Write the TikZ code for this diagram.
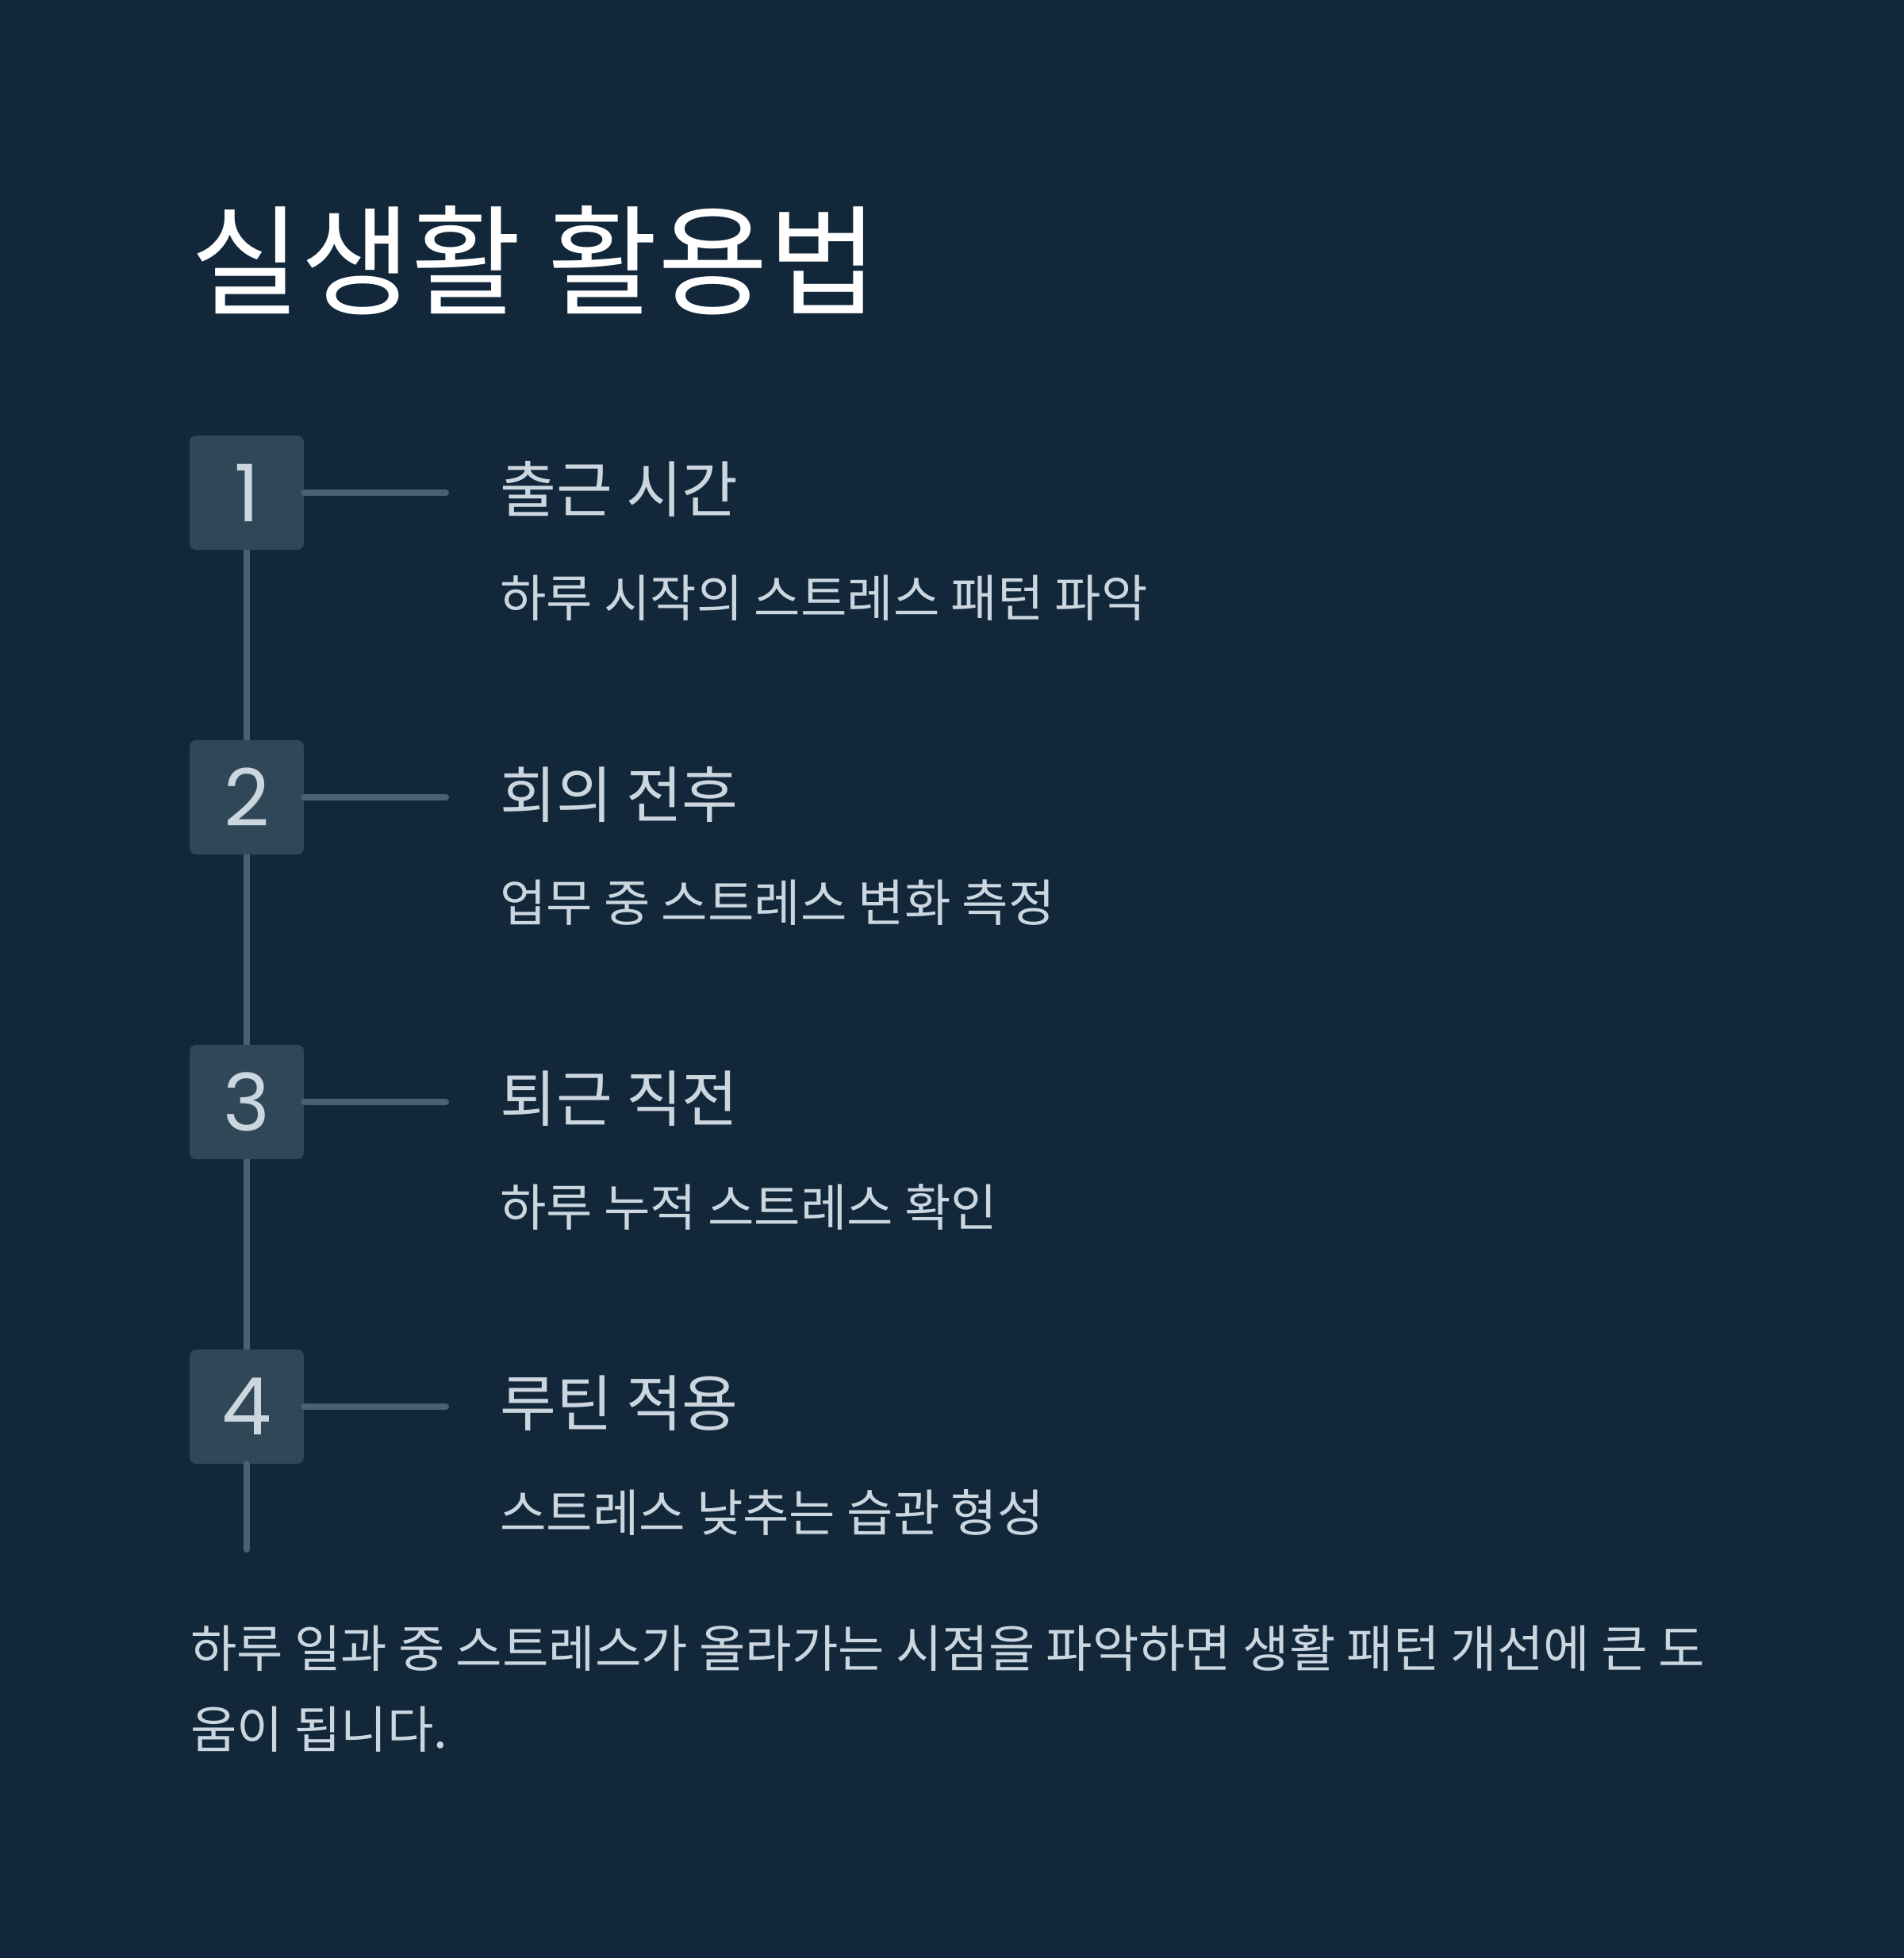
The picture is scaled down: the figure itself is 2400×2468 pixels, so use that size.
\documentclass[tikz,border=0pt]{standalone}
\usepackage{fontspec}
\setmainfont{Noto Sans CJK KR}
\newfontfamily\numfont{Poppins}
\definecolor{bgnavy}{HTML}{12273A}
\definecolor{boxslate}{HTML}{304757}
\definecolor{railgray}{HTML}{4B6171}
\definecolor{paletext}{HTML}{CBD6DF}

\begin{document}
\begin{tikzpicture}[x=1pt, y=-1pt,
    numbox/.style={fill=boxslate, rounded corners=8pt, minimum width=144pt,
        minimum height=144pt, inner sep=0pt, text=paletext,
        font=\numfont\fontsize{100}{100}\selectfont},
    rail/.style={railgray, line width=8pt, line cap=round},
    headtext/.style={anchor=west, inner sep=0pt, text=paletext,
        font=\fontsize{77}{90}\selectfont},
    subtext/.style={anchor=west, inner sep=0pt, text=paletext,
        font=\fontsize{63.5}{74}\selectfont}]

%% ---- Sfondo ----
\fill[bgnavy] (0,0) rectangle (2400,2468);
\useasboundingbox (0,0) rectangle (2400,2468);

%% ---- Titolo ----
\node[anchor=west, inner sep=0pt, text=white,
    font=\fontsize{151}{160}\selectfont] (title) at (240,328) {실생활 활용법};

%% ---- Passi ----
\foreach \i/\head/\sub in {1/출근 시간/하루 시작의 스트레스 패턴 파악,
                           2/회의 전후/업무 중 스트레스 변화 측정,
                           3/퇴근 직전/하루 누적 스트레스 확인,
                           4/루틴 적용/스트레스 낮추는 습관 형성} {
  \node[numbox] (n\i) at (311,{621+(\i-1)*384}) {\i};
  \coordinate (s\i) at (562,{621+(\i-1)*384});
  \draw[rail] (n\i.east) -- (s\i);
  \node[headtext] (h\i) at (630,{617+(\i-1)*384}) {\head};
  \node[subtext] (d\i) at (630,{754+(\i-1)*384}) {\sub};
}

%% ---- Linea verticale ----
\coordinate (railend) at (311,1953);
\foreach \a/\b in {1/2,2/3,3/4} \draw[rail, line cap=butt] (n\a.south) -- (n\b.north);
\draw[rail] (n4.south) -- (railend);

%% ---- Nota finale ----
\node[anchor=north west, inner sep=0pt, align=left, text=paletext,
    font=\fontsize{63.5}{102}\selectfont] (note) at (240,2048)
    {하루 일과 중 스트레스가 올라가는 시점을 파악하면 생활 패턴 개선에 큰 도\\움이 됩니다.};

\end{tikzpicture}
\end{document}
